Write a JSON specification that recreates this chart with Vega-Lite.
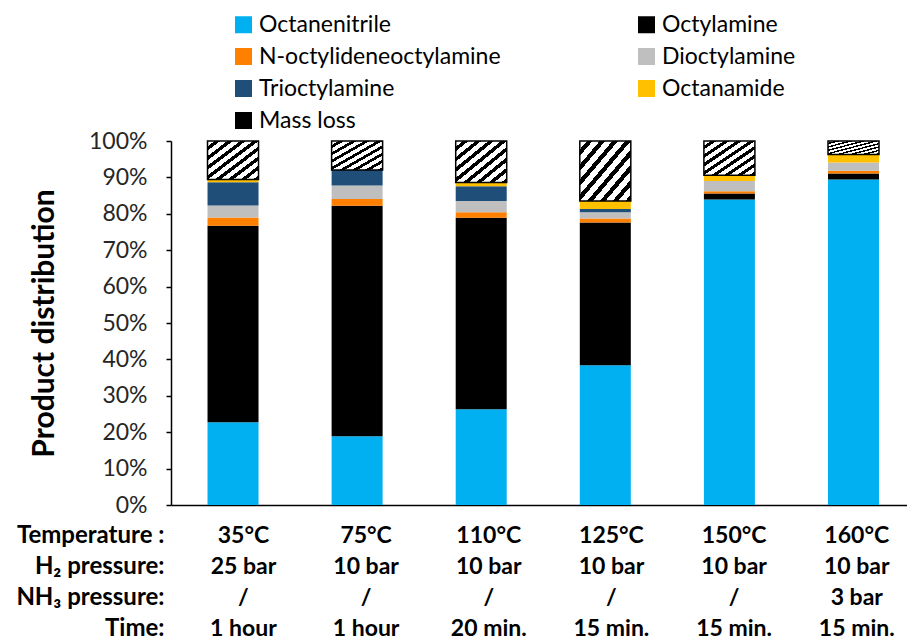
{
  "$schema": "https://vega.github.io/schema/vega-lite/v6.json",
  "autosize": {"type": "pad"},
  "padding": {"left": 15, "top": 13, "right": 0, "bottom": 0},
  "config": {
    "view": {"stroke": null},
    "font": "Lato",
    "concat": {"spacing": 3}
  },
  "datasets": {
    "bars": [
      {"temp": "35°C", "product": "Octanenitrile", "pct": 22.7},
      {"temp": "35°C", "product": "Octylamine", "pct": 54.0},
      {"temp": "35°C", "product": "N-octylideneoctylamine", "pct": 2.3},
      {"temp": "35°C", "product": "Dioctylamine", "pct": 3.3},
      {"temp": "35°C", "product": "Trioctylamine", "pct": 6.4},
      {"temp": "35°C", "product": "Octanamide", "pct": 0.7},
      {"temp": "35°C", "product": "Mass loss", "pct": 10.6},
      {"temp": "75°C", "product": "Octanenitrile", "pct": 18.9},
      {"temp": "75°C", "product": "Octylamine", "pct": 63.3},
      {"temp": "75°C", "product": "N-octylideneoctylamine", "pct": 1.9},
      {"temp": "75°C", "product": "Dioctylamine", "pct": 3.7},
      {"temp": "75°C", "product": "Trioctylamine", "pct": 4.2},
      {"temp": "75°C", "product": "Octanamide", "pct": 0.0},
      {"temp": "75°C", "product": "Mass loss", "pct": 8.0},
      {"temp": "110°C", "product": "Octanenitrile", "pct": 26.3},
      {"temp": "110°C", "product": "Octylamine", "pct": 52.6},
      {"temp": "110°C", "product": "N-octylideneoctylamine", "pct": 1.5},
      {"temp": "110°C", "product": "Dioctylamine", "pct": 3.1},
      {"temp": "110°C", "product": "Trioctylamine", "pct": 4.1},
      {"temp": "110°C", "product": "Octanamide", "pct": 1.0},
      {"temp": "110°C", "product": "Mass loss", "pct": 11.4},
      {"temp": "125°C", "product": "Octanenitrile", "pct": 38.4},
      {"temp": "125°C", "product": "Octylamine", "pct": 39.2},
      {"temp": "125°C", "product": "N-octylideneoctylamine", "pct": 1.1},
      {"temp": "125°C", "product": "Dioctylamine", "pct": 1.7},
      {"temp": "125°C", "product": "Trioctylamine", "pct": 0.9},
      {"temp": "125°C", "product": "Octanamide", "pct": 2.2},
      {"temp": "125°C", "product": "Mass loss", "pct": 16.5},
      {"temp": "150°C", "product": "Octanenitrile", "pct": 83.9},
      {"temp": "150°C", "product": "Octylamine", "pct": 1.7},
      {"temp": "150°C", "product": "N-octylideneoctylamine", "pct": 0.6},
      {"temp": "150°C", "product": "Dioctylamine", "pct": 2.8},
      {"temp": "150°C", "product": "Trioctylamine", "pct": 0.0},
      {"temp": "150°C", "product": "Octanamide", "pct": 1.6},
      {"temp": "150°C", "product": "Mass loss", "pct": 9.4},
      {"temp": "160°C", "product": "Octanenitrile", "pct": 89.4},
      {"temp": "160°C", "product": "Octylamine", "pct": 1.7},
      {"temp": "160°C", "product": "N-octylideneoctylamine", "pct": 0.7},
      {"temp": "160°C", "product": "Dioctylamine", "pct": 2.3},
      {"temp": "160°C", "product": "Trioctylamine", "pct": 0.0},
      {"temp": "160°C", "product": "Octanamide", "pct": 2.2},
      {"temp": "160°C", "product": "Mass loss", "pct": 3.7}
    ],
    "table": [
      {"temp": "35°C", "row": "Temperature :", "text": "35°C"},
      {"temp": "75°C", "row": "Temperature :", "text": "75°C"},
      {"temp": "110°C", "row": "Temperature :", "text": "110°C"},
      {"temp": "125°C", "row": "Temperature :", "text": "125°C"},
      {"temp": "150°C", "row": "Temperature :", "text": "150°C"},
      {"temp": "160°C", "row": "Temperature :", "text": "160°C"},
      {"temp": "35°C", "row": "H₂ pressure:", "text": "25 bar"},
      {"temp": "75°C", "row": "H₂ pressure:", "text": "10 bar"},
      {"temp": "110°C", "row": "H₂ pressure:", "text": "10 bar"},
      {"temp": "125°C", "row": "H₂ pressure:", "text": "10 bar"},
      {"temp": "150°C", "row": "H₂ pressure:", "text": "10 bar"},
      {"temp": "160°C", "row": "H₂ pressure:", "text": "10 bar"},
      {"temp": "35°C", "row": "NH₃ pressure:", "text": "/"},
      {"temp": "75°C", "row": "NH₃ pressure:", "text": "/"},
      {"temp": "110°C", "row": "NH₃ pressure:", "text": "/"},
      {"temp": "125°C", "row": "NH₃ pressure:", "text": "/"},
      {"temp": "150°C", "row": "NH₃ pressure:", "text": "/"},
      {"temp": "160°C", "row": "NH₃ pressure:", "text": "3 bar"},
      {"temp": "35°C", "row": "Time:", "text": "1 hour"},
      {"temp": "75°C", "row": "Time:", "text": "1 hour"},
      {"temp": "110°C", "row": "Time:", "text": "20 min."},
      {"temp": "125°C", "row": "Time:", "text": "15 min."},
      {"temp": "150°C", "row": "Time:", "text": "15 min."},
      {"temp": "160°C", "row": "Time:", "text": "15 min."}
    ]
  },
  "resolve": {"legend": {"color": "independent"}},
  "vconcat": [
    {
      "width": 736,
      "height": 364,
      "data": {"name": "bars"},
      "transform": [
        {"calculate": "indexof(['Octanenitrile','Octylamine','N-octylideneoctylamine','Dioctylamine','Trioctylamine','Octanamide','Mass loss'], datum.product)", "as": "k"}
      ],
      "mark": {"type": "bar", "strokeWidth": 1.5},
      "encoding": {
        "x": {
          "field": "temp", "type": "nominal",
          "sort": ["35°C", "75°C", "110°C", "125°C", "150°C", "160°C"],
          "scale": {"paddingInner": 0.589, "paddingOuter": 0.26, "align": 0.566},
          "axis": {"labels": false, "ticks": false, "title": null, "domainColor": "black", "domainWidth": 1.5}
        },
        "y": {
          "field": "pct", "type": "quantitative", "stack": "zero",
          "scale": {"domain": [0, 100], "nice": false},
          "axis": {
            "title": "Product distribution",
            "titleFont": "Lato", "titleFontSize": 30, "titleFontWeight": "bold", "titleColor": "black",
            "titlePadding": 29,
            "values": [0, 10, 20, 30, 40, 50, 60, 70, 80, 90, 100],
            "labelExpr": "datum.value + '%'",
            "labelFont": "Lato", "labelFontSize": 23, "labelColor": "#262626",
            "labelPadding": 19, "tickSize": 5, "tickColor": "black", "tickWidth": 1.5,
            "domainColor": "black", "domainWidth": 1.5, "grid": false
          }
        },
        "order": {"field": "k", "type": "quantitative", "sort": "ascending"},
        "color": {
          "condition": {
            "test": "datum.product === 'Mass loss'",
            "value": {
              "gradient": "linear", "x1": 0, "y1": 0, "x2": 1, "y2": 1,
              "stops": [
                {"offset": 0, "color": "white"}, {"offset": 0.07, "color": "white"},
                {"offset": 0.07, "color": "black"}, {"offset": 0.125, "color": "black"},
                {"offset": 0.125, "color": "white"}, {"offset": 0.195, "color": "white"},
                {"offset": 0.195, "color": "black"}, {"offset": 0.25, "color": "black"},
                {"offset": 0.25, "color": "white"}, {"offset": 0.32, "color": "white"},
                {"offset": 0.32, "color": "black"}, {"offset": 0.375, "color": "black"},
                {"offset": 0.375, "color": "white"}, {"offset": 0.445, "color": "white"},
                {"offset": 0.445, "color": "black"}, {"offset": 0.5, "color": "black"},
                {"offset": 0.5, "color": "white"}, {"offset": 0.57, "color": "white"},
                {"offset": 0.57, "color": "black"}, {"offset": 0.625, "color": "black"},
                {"offset": 0.625, "color": "white"}, {"offset": 0.695, "color": "white"},
                {"offset": 0.695, "color": "black"}, {"offset": 0.75, "color": "black"},
                {"offset": 0.75, "color": "white"}, {"offset": 0.82, "color": "white"},
                {"offset": 0.82, "color": "black"}, {"offset": 0.875, "color": "black"},
                {"offset": 0.875, "color": "white"}, {"offset": 0.945, "color": "white"},
                {"offset": 0.945, "color": "black"}, {"offset": 1, "color": "black"}
              ]
            }
          },
          "field": "product", "type": "nominal",
          "scale": {
            "domain": ["Octanenitrile", "Octylamine", "N-octylideneoctylamine", "Dioctylamine", "Trioctylamine", "Octanamide", "Mass loss"],
            "range": ["#00B0F0", "#000000", "#FF8000", "#BFBFBF", "#1F4E79", "#FFC000", "#000000"]
          },
          "legend": {
            "orient": "none", "legendX": 61, "legendY": -128,
            "direction": "horizontal", "columns": 2, "columnPadding": 134, "rowPadding": 8,
            "title": null, "symbolType": "square", "symbolSize": 289, "symbolStrokeWidth": 0,
            "labelFont": "Lato", "labelFontSize": 23, "labelColor": "black", "labelOffset": 4, "labelLimit": 400,
            "encode": {
              "symbols": {
                "fill": {
                  "condition": {"test": "datum.value === 'Mass loss'", "value": {
                    "gradient": "linear", "x1": 0, "y1": 0, "x2": 1, "y2": 1,
                    "stops": [
                      {"offset": 0, "color": "black"}, {"offset": 0.42, "color": "black"},
                      {"offset": 0.42, "color": "white"}, {"offset": 0.6, "color": "white"},
                      {"offset": 0.6, "color": "black"}, {"offset": 1, "color": "black"}
                    ]
                  }},
                  "expr": "({'Octanenitrile': '#00B0F0', 'Octylamine': '#000000', 'N-octylideneoctylamine': '#FF8000', 'Dioctylamine': '#BFBFBF', 'Trioctylamine': '#1F4E79', 'Octanamide': '#FFC000'})[datum.value]"
                },
                "stroke": {
                  "condition": {"test": "datum.value === 'Mass loss'", "value": "black"},
                  "value": "transparent"
                },
                "strokeWidth": {"value": 1.5}
              }
            }
          }
        },
        "stroke": {
          "condition": {"test": "datum.product === 'Mass loss'", "value": "black"},
          "value": null
        }
      }
    },
    {
      "width": 736,
      "height": 124,
      "data": {"name": "table"},
      "mark": {"type": "text", "font": "Lato", "fontSize": 23, "fontWeight": "bold", "color": "black", "baseline": "middle", "dx": 3},
      "encoding": {
        "x": {
          "field": "temp", "type": "nominal",
          "sort": ["35°C", "75°C", "110°C", "125°C", "150°C", "160°C"],
          "scale": {"paddingInner": 0.589, "paddingOuter": 0.26, "align": 0.566},
          "axis": null
        },
        "y": {
          "field": "row", "type": "nominal",
          "sort": ["Temperature :", "H₂ pressure:", "NH₃ pressure:", "Time:"],
          "axis": {
            "title": null, "domain": false, "ticks": false, "tickSize": 0,
            "labelFont": "Lato", "labelFontSize": 24, "labelFontWeight": "bold", "labelColor": "black",
            "labelPadding": 7
          }
        },
        "text": {"field": "text"}
      }
    }
  ]
}
